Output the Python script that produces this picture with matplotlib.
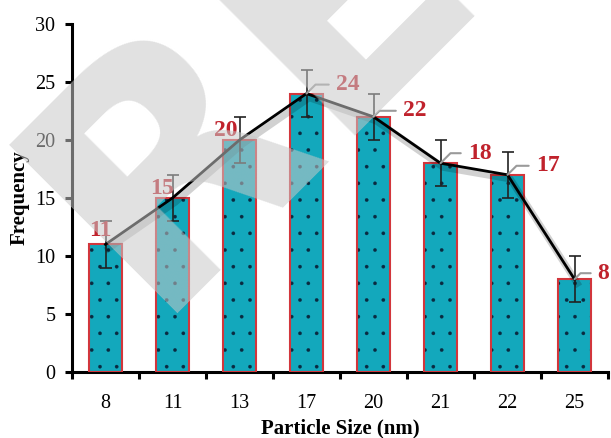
import matplotlib
matplotlib.use("Agg")
import matplotlib.pyplot as plt
import matplotlib.patheffects as pe
from matplotlib.ticker import FixedLocator, NullFormatter
import numpy as np

# data
sizes = ["8", "11", "13", "17", "20", "21", "22", "25"]
frequency = [11, 15, 20, 24, 22, 18, 17, 8]
errors = [2, 2, 2, 2, 2, 2, 2, 2]

# label offsets in pixels (dx, dy) from bar top, and which ones get a leader
label_dx = [-5, -11, -14, 41, 41, 39, 40, 29]
label_dy = [14, 9, 9, 9, 6, 10, 9, 6]
leader = [False, False, False, True, True, True, True, True]

teal = "#13a8bc"
edge_red = "#d2363c"
label_red = "#c0222c"

plt.rcParams["font.family"] = ["Liberation Serif", "DejaVu Serif"]
plt.rcParams["hatch.linewidth"] = 0.2

fig = plt.figure(figsize=(6.11, 4.38), dpi=100)
ax = fig.add_axes([72 / 611, 1 - 372 / 438, (608 - 72) / 611, (372 - 24) / 438])

x = np.arange(len(sizes))

# fill + black dotted hatch, then red outline on top
ax.bar(x, frequency, width=0.5, color=teal, edgecolor="#0a2a40", linewidth=0,
       hatch=".", zorder=2)
ax.bar(x, frequency, width=0.5, facecolor="none", edgecolor=edge_red,
       linewidth=1.5, zorder=3)

ax.errorbar(x, frequency, yerr=errors, fmt="none", ecolor="#222222",
            elinewidth=1.2, capsize=4.5, capthick=1.2, zorder=4)

ax.plot(x, frequency, color="black", lw=2, zorder=5,
        path_effects=[pe.SimpleLineShadow(offset=(2, -3), shadow_color="black",
                                          alpha=0.18, linewidth=5),
                      pe.Normal()])

for i, v in enumerate(frequency):
    props = None
    if leader[i]:
        props = dict(arrowstyle="-", color="#9a9a9a", lw=1.5, shrinkA=3, shrinkB=0,
                     connectionstyle="angle,angleA=0,angleB=45,rad=0")
    ax.annotate(str(v), xy=(x[i], v),
                xytext=(label_dx[i] * 0.72, label_dy[i] * 0.72),
                textcoords="offset points", ha="center", va="center",
                fontsize=17, fontweight="bold", color=label_red,
                arrowprops=props, zorder=6)

ax.set_xlim(-0.5, len(sizes) - 0.5)
ax.set_ylim(0, 30)
ax.set_yticks(range(0, 31, 5))
ax.set_xticks(x)
ax.set_xticklabels(sizes)
ax.xaxis.set_minor_locator(FixedLocator(np.arange(-0.5, len(sizes), 1.0)))
ax.xaxis.set_minor_formatter(NullFormatter())

for s in ["top", "right"]:
    ax.spines[s].set_visible(False)
for s in ["left", "bottom"]:
    ax.spines[s].set_linewidth(2.2)

ax.tick_params(axis="x", which="major", length=0, pad=16, labelsize=14.5)
ax.tick_params(axis="x", which="minor", length=5, width=2.2, direction="out")
ax.tick_params(axis="y", length=5, width=2.2, pad=7, labelsize=14.5)

ax.set_xlabel("Particle Size (nm)", fontsize=15, fontweight="bold", labelpad=4)
ax.set_ylabel("Frequency", fontsize=15, fontweight="bold", labelpad=4)

# faint watermark across the plot
fig.text(0.412, 0.814, "RE", fontsize=235, fontweight="bold", family="DejaVu Sans",
         color="#c8c8c8", alpha=0.55, rotation=45, ha="center", va="center",
         zorder=10)

fig.savefig("out.png", dpi=100)
